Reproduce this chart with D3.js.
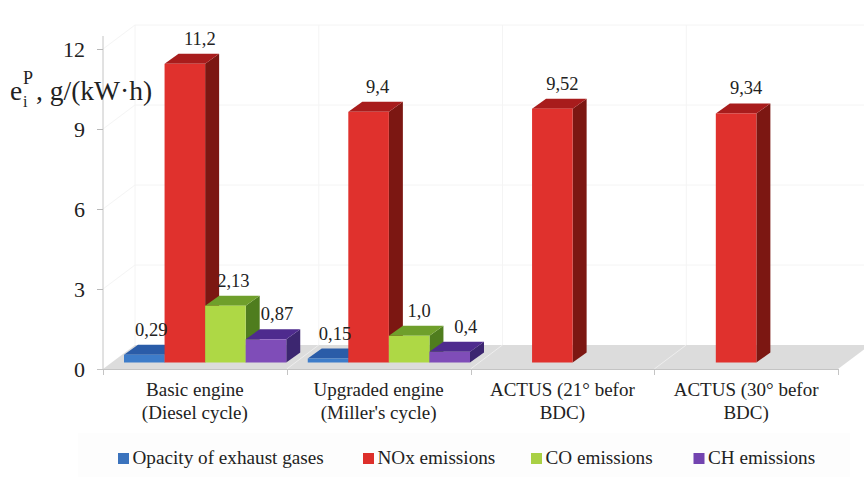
<!DOCTYPE html>
<html>
<head>
<meta charset="utf-8">
<script src="https://cdn.jsdelivr.net/npm/d3@7/dist/d3.min.js"></script>
<style>
html,body{margin:0;padding:0;background:#fff;}
svg{display:block;}
text{font-family:"Liberation Serif","Times New Roman",serif;fill:#222;}
</style>
</head>
<body>
<svg id="c" width="864" height="477"></svg>
<script>
const categories = [["Basic engine","(Diesel cycle)"],["Upgraded engine","(Miller's cycle)"],["ACTUS (21° befor","BDC)"],["ACTUS (30° befor","BDC)"]];
const seriesNames = ["Opacity of exhaust gases","NOx emissions","CO emissions","CH emissions"];
const opacityValues = [0.29,0.15,null,null];
const noxValues = [11.2,9.4,9.52,9.34];
const coValues = [2.13,1.0,null,null];
const chValues = [0.87,0.4,null,null];
const opacityLabels = ["0,29","0,15",null,null];
const noxLabels = ["11,2","9,4","9,52","9,34"];
const coLabels = ["2,13","1,0",null,null];
const chLabels = ["0,87","0,4",null,null];
const yTicks = [0,3,6,9,12];

const seriesValues = [opacityValues,noxValues,coValues,chValues];
const seriesLabels = [opacityLabels,noxLabels,coLabels,chLabels];
const faces = [
  {front:"#3d7cc9",top:"#2a5ca8",side:"#1f4a8c",key:"#3b73bd"},
  {front:"#e0312d",top:"#a81c1c",side:"#7c1712",key:"#dd2f2b"},
  {front:"#aed845",top:"#6f9f2b",side:"#4f7d1e",key:"#a9d044"},
  {front:"#7f4db8",top:"#4e2b8e",side:"#3c2670",key:"#7344b0"}
];
const labelShift = [[7,7],[15,9,10,10],[8,10],[11,16]];
const legendX = [118,363,531,693.5];

const left=103,right=838,base=369,topY=49;
const wallDx=32,wallDy=-24,barDx=14,barDy=-10,barLift=6.5;
const svg=d3.select("#c");
const y=d3.scaleLinear().domain([0,12]).range([base,topY]);
const x=d3.scaleBand().domain(d3.range(categories.length)).range([left,right]);
const xs=d3.scaleBand().domain(d3.range(seriesNames.length)).range([21,x.bandwidth()-0.5]);

// walls
const wall=svg.append("g").attr("stroke","#f4f4f4").attr("fill","none");
yTicks.filter(t=>t>0).forEach(t=>{
  wall.append("line").attr("x1",left+wallDx).attr("x2",864).attr("y1",y(t)+wallDy).attr("y2",y(t)+wallDy);
  wall.append("line").attr("x1",left).attr("x2",left+wallDx).attr("y1",y(t)).attr("y2",y(t)+wallDy);
});
d3.range(categories.length+1).forEach(i=>{
  const px=left+i*x.step()+wallDx;
  if(px<864) wall.append("line").attr("x1",px).attr("x2",px).attr("y1",y(12)+wallDy).attr("y2",base+wallDy);
});
// floor
svg.append("path").attr("fill","#dcdcdc")
  .attr("d",d3.line()([[left,base],[right,base],[right+wallDx,base+wallDy],[left+wallDx,base+wallDy]])+"Z");
const fl=svg.append("g").attr("stroke","#eeeeee").attr("stroke-width",1);
d3.range(1,categories.length).forEach(i=>{
  const px=left+i*x.step();
  fl.append("line").attr("x1",px).attr("x2",px+wallDx).attr("y1",base).attr("y2",base+wallDy);
});

// axes
const yAxis=d3.axisLeft(y).tickValues(yTicks).tickSize(6).tickPadding(12);
const gy=svg.append("g").attr("transform",`translate(${left},0)`).call(yAxis);
gy.select(".domain").attr("d",`M0,36V${base}`).attr("stroke","#c4c4c4");
gy.selectAll(".tick line").attr("stroke","#b8b8b8");
gy.selectAll("text").attr("font-size",22).attr("font-family",'"Liberation Serif",serif').attr("fill","#222").attr("dy","0.36em");

const xAxisLine=svg.append("g").attr("stroke","#c4c4c4");
xAxisLine.append("line").attr("x1",left-6).attr("x2",right).attr("y1",base+.5).attr("y2",base+.5);
d3.range(categories.length+1).forEach(i=>{
  const px=Math.round(left+i*x.step())+.5;
  xAxisLine.append("line").attr("x1",px).attr("x2",px).attr("y1",base).attr("y2",base+6);
});

// category labels
categories.forEach((lines,i)=>{
  const t=svg.append("text").attr("text-anchor","middle").attr("font-size",19);
  lines.forEach((l,j)=>t.append("tspan").attr("x",x(i)+x.bandwidth()/2).attr("y",396+j*22.5).text(l));
});

// bars
const bars=svg.append("g");
categories.forEach((_,i)=>{
  seriesNames.forEach((_,s)=>{
    const v=seriesValues[s][i];
    if(v==null) return;
    const x0=x(i)+xs(s),x1=x0+xs.bandwidth(),yb=base-barLift,yt=y(v)-barLift;
    const line=d3.line();
    bars.append("path").attr("fill",faces[s].side)
      .attr("d",line([[x1,yt],[x1+barDx,yt+barDy],[x1+barDx,yb+barDy],[x1,yb]])+"Z");
    bars.append("path").attr("fill",faces[s].top)
      .attr("d",line([[x0,yt],[x0+barDx,yt+barDy],[x1+barDx,yt+barDy],[x1,yt]])+"Z");
    bars.append("rect").attr("x",x0).attr("y",yt).attr("width",xs.bandwidth()).attr("height",yb-yt).attr("fill",faces[s].front);
  });
});

// value labels
seriesNames.forEach((_,s)=>{
  let n=0;
  categories.forEach((_,i)=>{
    const v=seriesValues[s][i];
    if(v==null) return;
    const shift=labelShift[s][n++];
    svg.append("text").attr("text-anchor","middle").attr("font-size",18.5)
      .attr("x",x(i)+xs(s)+xs.bandwidth()/2+shift)
      .attr("y",y(v)-barLift-19)
      .text(seriesLabels[s][i]);
  });
});

// axis title
const title=svg.append("g");
title.append("text").attr("x",10).attr("y",100).attr("font-size",27.5).text("e");
title.append("text").attr("x",23).attr("y",84).attr("font-size",18).text("P");
title.append("text").attr("x",23).attr("y",107).attr("font-size",16).text("i");
title.append("text").attr("x",36).attr("y",100).attr("font-size",27.5).text(", g/(kW·h)");

// legend
svg.insert("rect",":first-child").attr("x",78).attr("y",433).attr("width",772).attr("height",44).attr("fill","#fdfdfd");
seriesNames.forEach((n,s)=>{
  svg.append("rect").attr("x",legendX[s]).attr("y",453).attr("width",11).attr("height",11).attr("fill",faces[s].key);
  svg.append("text").attr("x",legendX[s]+14.5).attr("y",464).attr("font-size",19.2).text(n);
});
</script>
</body>
</html>
